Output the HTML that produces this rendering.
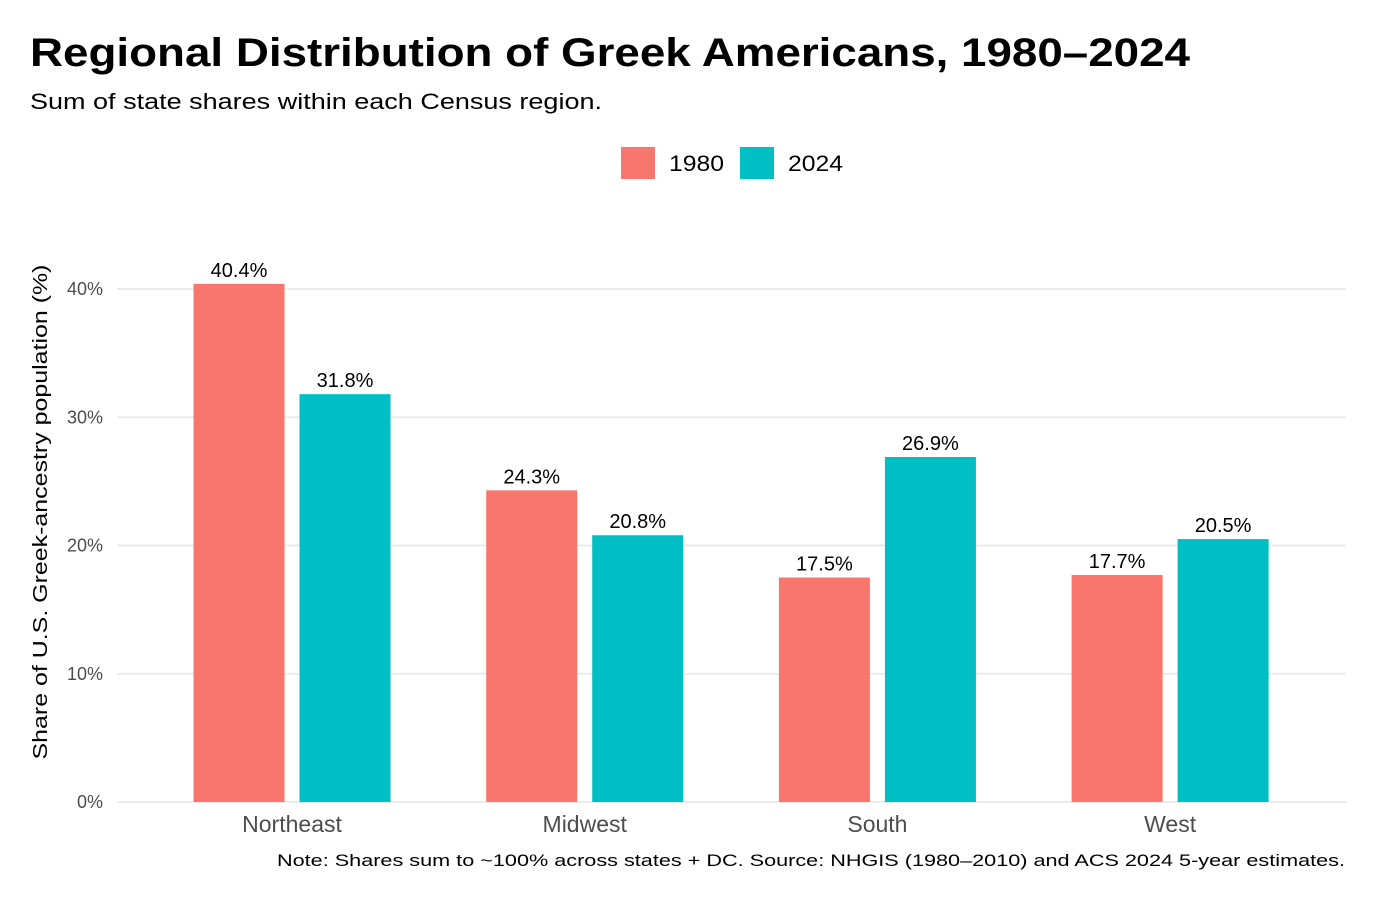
<!DOCTYPE html>
<html><head><meta charset="utf-8"><style>
body{margin:0;background:#fff;font-family:"Liberation Sans",Arial,sans-serif;}
svg text{font-family:"Liberation Sans",Arial,sans-serif;}
</style></head><body>
<svg id="chart" width="1400" height="900" viewBox="0 0 1400 900">
<text x="30" y="66" font-size="40" font-weight="bold" fill="#000" textLength="1160" lengthAdjust="spacingAndGlyphs">Regional Distribution of Greek Americans, 1980–2024</text>
<text x="30" y="109" font-size="22" fill="#000" textLength="572" lengthAdjust="spacingAndGlyphs">Sum of state shares within each Census region.</text>
<g>
<rect x="621" y="147" width="34" height="32" fill="#F8766D"/>
<text x="669" y="171" font-size="22" textLength="55" lengthAdjust="spacingAndGlyphs">1980</text>
<rect x="740" y="147" width="34" height="32" fill="#00BFC4"/>
<text x="788" y="171" font-size="22" textLength="55" lengthAdjust="spacingAndGlyphs">2024</text>
</g>
<g id="grid"></g><g id="bars"></g><g id="labels"></g>
<text transform="translate(47,512) rotate(-90)" text-anchor="middle" font-size="20" textLength="495" lengthAdjust="spacingAndGlyphs">Share of U.S. Greek-ancestry population (%)</text>
<text x="1345" y="866" text-anchor="end" font-size="17" textLength="1068" lengthAdjust="spacingAndGlyphs">Note: Shares sum to ~100% across states + DC. Source: NHGIS (1980–2010) and ACS 2024 5-year estimates.</text>
</svg>
<script>
const categories=["Northeast","Midwest","South","West"];
const values1980=[40.4,24.3,17.5,17.7];
const values2024=[31.8,20.8,26.9,20.5];
const yTicks=[0,10,20,30,40];
const ns="http://www.w3.org/2000/svg";
const y0=802,pxPer=12.825,left=116.4,step=292.7,bw=91,gap=15;
const y=v=>y0-v*pxPer;
const xc=i=>left+step*(i+0.6);
function mk(tag,attrs,parent,txt){const e=document.createElementNS(ns,tag);for(const k in attrs)e.setAttribute(k,attrs[k]);if(txt!==undefined)e.textContent=txt;document.getElementById(parent).appendChild(e);return e;}
yTicks.forEach(t=>{
 const l=mk('line',{x1:117,x2:1346,y1:y(t),y2:y(t),stroke:'#EBEBEB','stroke-width':2},'grid');
 
 
 const tx=mk('text',{x:103,y:y(t)+6,'text-anchor':'end','font-size':18,fill:'#4D4D4D'},'grid',t+'%');
 
 
});
categories.forEach((c,i)=>{
 const cx=xc(i);
 [[values1980[i],'#F8766D',cx-gap/2-bw,'1980'],[values2024[i],'#00BFC4',cx+gap/2,'2024']].forEach(([v,col,x,s])=>{
  const r=mk('rect',{x:x,y:y(v),width:bw,height:y0-y(v),fill:col},'bars');
  
  
  const t=mk('text',{x:x+bw/2,y:y(v)-7,'text-anchor':'middle','font-size':20,fill:'#000'},'labels',v.toFixed(1)+'%');
  
  
 });
 const xl=mk('text',{x:cx,y:832,'text-anchor':'middle','font-size':23,fill:'#4D4D4D'},'labels',c);
 
 
});
</script>
</body></html>
